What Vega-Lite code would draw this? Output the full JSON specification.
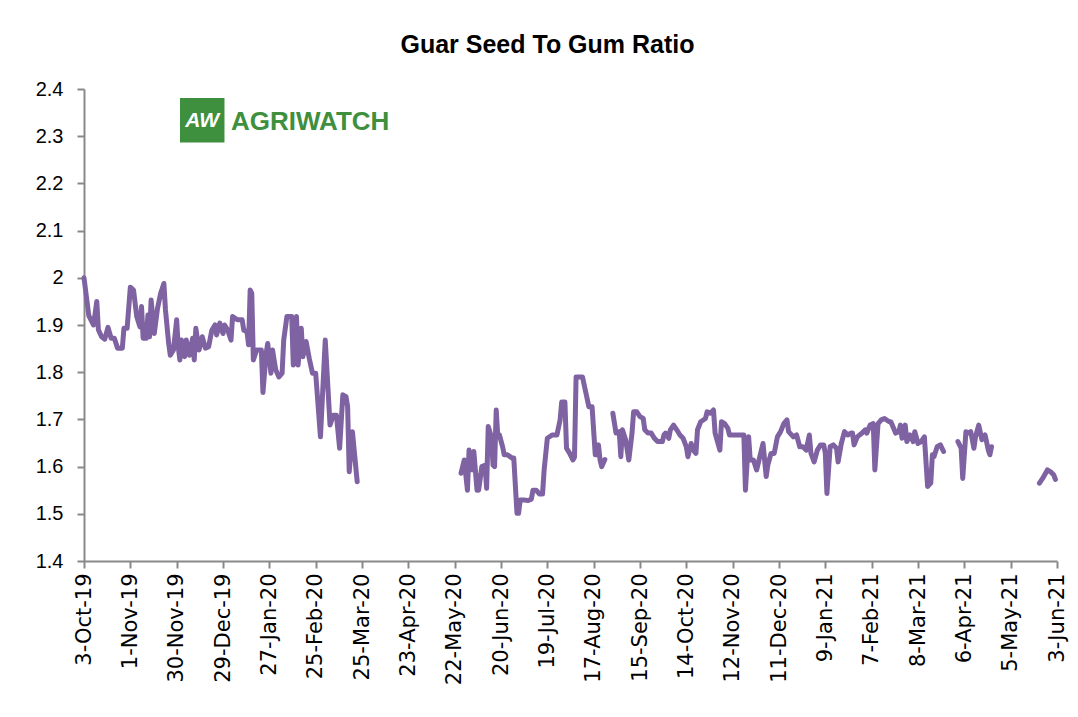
{
  "$schema": "https://vega.github.io/schema/vega-lite/v6.json",
  "width": 973,
  "height": 472,
  "autosize": {"type": "none"},
  "padding": {"left": 84, "top": 89, "right": 21, "bottom": 156},
  "background": "white",
  "config": {"view": {"stroke": null}},
  "title": {"text": "Guar Seed To Gum Ratio", "font": "Liberation Sans", "fontSize": 25, "fontWeight": "bold", "color": "black", "anchor": "middle", "frame": "group", "dx": -23, "offset": 21},
  "layer": [
    {
      "data": {"values": [
        {"d":"2019-10-03","v":2.0,"s":1},{"d":"2019-10-06","v":1.92,"s":1},{"d":"2019-10-09","v":1.9,"s":1},{"d":"2019-10-11","v":1.95,"s":1},{"d":"2019-10-12","v":1.89,"s":1},{"d":"2019-10-14","v":1.875,"s":1},{"d":"2019-10-16","v":1.87,"s":1},{"d":"2019-10-18","v":1.895,"s":1},{"d":"2019-10-20","v":1.872,"s":1},{"d":"2019-10-22","v":1.872,"s":1},{"d":"2019-10-24","v":1.851,"s":1},{"d":"2019-10-27","v":1.851,"s":1},{"d":"2019-10-28","v":1.893,"s":1},{"d":"2019-10-30","v":1.893,"s":1},
        {"d":"2019-11-01","v":1.98,"s":1},{"d":"2019-11-03","v":1.974,"s":1},{"d":"2019-11-05","v":1.918,"s":1},{"d":"2019-11-07","v":1.896,"s":1},{"d":"2019-11-08","v":1.939,"s":1},{"d":"2019-11-09","v":1.872,"s":1},{"d":"2019-11-11","v":1.872,"s":1},{"d":"2019-11-12","v":1.921,"s":1},{"d":"2019-11-13","v":1.875,"s":1},{"d":"2019-11-14","v":1.953,"s":1},{"d":"2019-11-16","v":1.882,"s":1},{"d":"2019-11-18","v":1.935,"s":1},{"d":"2019-11-20","v":1.967,"s":1},{"d":"2019-11-22","v":1.988,"s":1},{"d":"2019-11-23","v":1.932,"s":1},{"d":"2019-11-25","v":1.861,"s":1},{"d":"2019-11-26","v":1.836,"s":1},{"d":"2019-11-28","v":1.847,"s":1},{"d":"2019-11-30","v":1.911,"s":1},
        {"d":"2019-12-01","v":1.854,"s":1},{"d":"2019-12-02","v":1.826,"s":1},{"d":"2019-12-03","v":1.868,"s":1},{"d":"2019-12-05","v":1.833,"s":1},{"d":"2019-12-06","v":1.868,"s":1},{"d":"2019-12-08","v":1.836,"s":1},{"d":"2019-12-10","v":1.872,"s":1},{"d":"2019-12-11","v":1.826,"s":1},{"d":"2019-12-12","v":1.893,"s":1},{"d":"2019-12-14","v":1.847,"s":1},{"d":"2019-12-16","v":1.875,"s":1},{"d":"2019-12-18","v":1.851,"s":1},{"d":"2019-12-20","v":1.854,"s":1},{"d":"2019-12-22","v":1.889,"s":1},{"d":"2019-12-24","v":1.9,"s":1},{"d":"2019-12-25","v":1.879,"s":1},{"d":"2019-12-27","v":1.904,"s":1},{"d":"2019-12-29","v":1.882,"s":1},{"d":"2019-12-30","v":1.9,"s":1},
        {"d":"2020-01-01","v":1.889,"s":1},{"d":"2020-01-03","v":1.868,"s":1},{"d":"2020-01-04","v":1.918,"s":1},{"d":"2020-01-07","v":1.911,"s":1},{"d":"2020-01-10","v":1.911,"s":1},{"d":"2020-01-11","v":1.889,"s":1},{"d":"2020-01-13","v":1.886,"s":1},{"d":"2020-01-14","v":1.858,"s":1},{"d":"2020-01-15","v":1.974,"s":1},{"d":"2020-01-16","v":1.967,"s":1},{"d":"2020-01-17","v":1.826,"s":1},{"d":"2020-01-19","v":1.847,"s":1},{"d":"2020-01-22","v":1.847,"s":1},{"d":"2020-01-23","v":1.757,"s":1},{"d":"2020-01-25","v":1.84,"s":1},{"d":"2020-01-26","v":1.861,"s":1},{"d":"2020-01-28","v":1.798,"s":1},{"d":"2020-01-29","v":1.847,"s":1},{"d":"2020-01-31","v":1.805,"s":1},
        {"d":"2020-02-02","v":1.79,"s":1},{"d":"2020-02-04","v":1.798,"s":1},{"d":"2020-02-05","v":1.868,"s":1},{"d":"2020-02-07","v":1.918,"s":1},{"d":"2020-02-10","v":1.918,"s":1},{"d":"2020-02-11","v":1.815,"s":1},{"d":"2020-02-13","v":1.918,"s":1},{"d":"2020-02-14","v":1.815,"s":1},{"d":"2020-02-16","v":1.893,"s":1},{"d":"2020-02-17","v":1.833,"s":1},{"d":"2020-02-19","v":1.865,"s":1},{"d":"2020-02-21","v":1.829,"s":1},{"d":"2020-02-23","v":1.798,"s":1},{"d":"2020-02-25","v":1.798,"s":1},{"d":"2020-02-28","v":1.663,"s":1},
        {"d":"2020-03-02","v":1.868,"s":1},{"d":"2020-03-05","v":1.688,"s":1},{"d":"2020-03-07","v":1.709,"s":1},{"d":"2020-03-09","v":1.709,"s":1},{"d":"2020-03-11","v":1.639,"s":1},{"d":"2020-03-13","v":1.752,"s":1},{"d":"2020-03-15","v":1.748,"s":1},{"d":"2020-03-16","v":1.727,"s":1},{"d":"2020-03-17","v":1.589,"s":1},{"d":"2020-03-19","v":1.674,"s":1},{"d":"2020-03-22","v":1.568,"s":1},
        {"d":"2020-05-26","v":1.586,"s":2},{"d":"2020-05-28","v":1.614,"s":2},{"d":"2020-05-30","v":1.55,"s":2},{"d":"2020-05-31","v":1.635,"s":2},{"d":"2020-06-02","v":1.593,"s":2},{"d":"2020-06-03","v":1.632,"s":2},{"d":"2020-06-05","v":1.55,"s":2},{"d":"2020-06-06","v":1.55,"s":2},{"d":"2020-06-08","v":1.6,"s":2},{"d":"2020-06-10","v":1.603,"s":2},{"d":"2020-06-11","v":1.554,"s":2},{"d":"2020-06-12","v":1.685,"s":2},{"d":"2020-06-14","v":1.663,"s":2},{"d":"2020-06-15","v":1.603,"s":2},{"d":"2020-06-16","v":1.6,"s":2},{"d":"2020-06-17","v":1.72,"s":2},{"d":"2020-06-18","v":1.663,"s":2},{"d":"2020-06-19","v":1.667,"s":2},{"d":"2020-06-21","v":1.642,"s":2},{"d":"2020-06-22","v":1.625,"s":2},{"d":"2020-06-24","v":1.625,"s":2},{"d":"2020-06-27","v":1.618,"s":2},{"d":"2020-06-28","v":1.618,"s":2},{"d":"2020-06-30","v":1.501,"s":2},
        {"d":"2020-07-01","v":1.501,"s":2},{"d":"2020-07-02","v":1.529,"s":2},{"d":"2020-07-05","v":1.529,"s":2},{"d":"2020-07-07","v":1.528,"s":2},{"d":"2020-07-09","v":1.531,"s":2},{"d":"2020-07-10","v":1.55,"s":2},{"d":"2020-07-12","v":1.55,"s":2},{"d":"2020-07-14","v":1.542,"s":2},{"d":"2020-07-16","v":1.542,"s":2},{"d":"2020-07-17","v":1.593,"s":2},{"d":"2020-07-19","v":1.66,"s":2},{"d":"2020-07-22","v":1.667,"s":2},{"d":"2020-07-25","v":1.667,"s":2},{"d":"2020-07-27","v":1.699,"s":2},{"d":"2020-07-28","v":1.737,"s":2},{"d":"2020-07-30","v":1.737,"s":2},{"d":"2020-07-31","v":1.639,"s":2},
        {"d":"2020-08-02","v":1.628,"s":2},{"d":"2020-08-04","v":1.614,"s":2},{"d":"2020-08-05","v":1.62,"s":2},{"d":"2020-08-06","v":1.79,"s":2},{"d":"2020-08-10","v":1.79,"s":2},{"d":"2020-08-14","v":1.727,"s":2},{"d":"2020-08-16","v":1.727,"s":2},{"d":"2020-08-18","v":1.625,"s":2},{"d":"2020-08-19","v":1.625,"s":2},{"d":"2020-08-20","v":1.646,"s":2},{"d":"2020-08-21","v":1.614,"s":2},{"d":"2020-08-22","v":1.6,"s":2},{"d":"2020-08-24","v":1.615,"s":2},
        {"d":"2020-08-29","v":1.713,"s":3},{"d":"2020-08-31","v":1.671,"s":3},{"d":"2020-09-02","v":1.674,"s":3},{"d":"2020-09-03","v":1.621,"s":3},{"d":"2020-09-04","v":1.678,"s":3},{"d":"2020-09-06","v":1.657,"s":3},{"d":"2020-09-08","v":1.614,"s":3},{"d":"2020-09-10","v":1.671,"s":3},{"d":"2020-09-11","v":1.716,"s":3},{"d":"2020-09-13","v":1.716,"s":3},{"d":"2020-09-15","v":1.706,"s":3},{"d":"2020-09-17","v":1.702,"s":3},{"d":"2020-09-18","v":1.678,"s":3},{"d":"2020-09-20","v":1.671,"s":3},{"d":"2020-09-22","v":1.671,"s":3},{"d":"2020-09-24","v":1.66,"s":3},{"d":"2020-09-26","v":1.653,"s":3},{"d":"2020-09-29","v":1.653,"s":3},{"d":"2020-09-30","v":1.667,"s":3},
        {"d":"2020-10-01","v":1.671,"s":3},{"d":"2020-10-03","v":1.66,"s":3},{"d":"2020-10-04","v":1.678,"s":3},{"d":"2020-10-06","v":1.688,"s":3},{"d":"2020-10-08","v":1.678,"s":3},{"d":"2020-10-10","v":1.667,"s":3},{"d":"2020-10-12","v":1.66,"s":3},{"d":"2020-10-14","v":1.642,"s":3},{"d":"2020-10-15","v":1.621,"s":3},{"d":"2020-10-17","v":1.649,"s":3},{"d":"2020-10-19","v":1.632,"s":3},{"d":"2020-10-20","v":1.628,"s":3},{"d":"2020-10-21","v":1.678,"s":3},{"d":"2020-10-23","v":1.695,"s":3},{"d":"2020-10-26","v":1.702,"s":3},{"d":"2020-10-27","v":1.716,"s":3},{"d":"2020-10-29","v":1.713,"s":3},{"d":"2020-10-31","v":1.72,"s":3},
        {"d":"2020-11-01","v":1.671,"s":3},{"d":"2020-11-04","v":1.635,"s":3},{"d":"2020-11-05","v":1.695,"s":3},{"d":"2020-11-07","v":1.691,"s":3},{"d":"2020-11-09","v":1.681,"s":3},{"d":"2020-11-10","v":1.667,"s":3},{"d":"2020-11-13","v":1.667,"s":3},{"d":"2020-11-16","v":1.667,"s":3},{"d":"2020-11-19","v":1.667,"s":3},{"d":"2020-11-20","v":1.55,"s":3},{"d":"2020-11-21","v":1.607,"s":3},{"d":"2020-11-22","v":1.663,"s":3},{"d":"2020-11-23","v":1.614,"s":3},{"d":"2020-11-25","v":1.614,"s":3},{"d":"2020-11-27","v":1.593,"s":3},{"d":"2020-11-29","v":1.621,"s":3},
        {"d":"2020-12-01","v":1.649,"s":3},{"d":"2020-12-03","v":1.579,"s":3},{"d":"2020-12-04","v":1.603,"s":3},{"d":"2020-12-06","v":1.628,"s":3},{"d":"2020-12-08","v":1.628,"s":3},{"d":"2020-12-10","v":1.663,"s":3},{"d":"2020-12-12","v":1.674,"s":3},{"d":"2020-12-14","v":1.691,"s":3},{"d":"2020-12-16","v":1.699,"s":3},{"d":"2020-12-17","v":1.674,"s":3},{"d":"2020-12-20","v":1.663,"s":3},{"d":"2020-12-22","v":1.667,"s":3},{"d":"2020-12-24","v":1.642,"s":3},{"d":"2020-12-26","v":1.642,"s":3},{"d":"2020-12-28","v":1.635,"s":3},{"d":"2020-12-30","v":1.667,"s":3},{"d":"2020-12-31","v":1.628,"s":3},
        {"d":"2021-01-02","v":1.61,"s":3},{"d":"2021-01-04","v":1.635,"s":3},{"d":"2021-01-06","v":1.646,"s":3},{"d":"2021-01-08","v":1.646,"s":3},{"d":"2021-01-09","v":1.628,"s":3},{"d":"2021-01-10","v":1.543,"s":3},{"d":"2021-01-12","v":1.642,"s":3},{"d":"2021-01-14","v":1.646,"s":3},{"d":"2021-01-16","v":1.639,"s":3},{"d":"2021-01-17","v":1.61,"s":3},{"d":"2021-01-19","v":1.649,"s":3},{"d":"2021-01-21","v":1.674,"s":3},{"d":"2021-01-23","v":1.667,"s":3},{"d":"2021-01-25","v":1.671,"s":3},{"d":"2021-01-26","v":1.671,"s":3},{"d":"2021-01-27","v":1.646,"s":3},{"d":"2021-01-29","v":1.663,"s":3},
        {"d":"2021-02-01","v":1.671,"s":3},{"d":"2021-02-03","v":1.678,"s":3},{"d":"2021-02-04","v":1.671,"s":3},{"d":"2021-02-06","v":1.688,"s":3},{"d":"2021-02-08","v":1.691,"s":3},{"d":"2021-02-09","v":1.593,"s":3},{"d":"2021-02-11","v":1.691,"s":3},{"d":"2021-02-13","v":1.699,"s":3},{"d":"2021-02-15","v":1.702,"s":3},{"d":"2021-02-18","v":1.695,"s":3},{"d":"2021-02-19","v":1.695,"s":3},{"d":"2021-02-22","v":1.671,"s":3},{"d":"2021-02-24","v":1.674,"s":3},{"d":"2021-02-25","v":1.688,"s":3},{"d":"2021-02-26","v":1.66,"s":3},{"d":"2021-02-28","v":1.688,"s":3},
        {"d":"2021-03-01","v":1.653,"s":3},{"d":"2021-03-03","v":1.667,"s":3},{"d":"2021-03-05","v":1.653,"s":3},{"d":"2021-03-06","v":1.674,"s":3},{"d":"2021-03-08","v":1.649,"s":3},{"d":"2021-03-10","v":1.653,"s":3},{"d":"2021-03-12","v":1.663,"s":3},{"d":"2021-03-14","v":1.558,"s":3},{"d":"2021-03-16","v":1.565,"s":3},{"d":"2021-03-17","v":1.625,"s":3},{"d":"2021-03-18","v":1.621,"s":3},{"d":"2021-03-20","v":1.642,"s":3},{"d":"2021-03-22","v":1.646,"s":3},{"d":"2021-03-24","v":1.632,"s":3},
        {"d":"2021-04-02","v":1.653,"s":4},{"d":"2021-04-04","v":1.639,"s":4},{"d":"2021-04-05","v":1.575,"s":4},{"d":"2021-04-07","v":1.674,"s":4},{"d":"2021-04-09","v":1.671,"s":4},{"d":"2021-04-10","v":1.674,"s":4},{"d":"2021-04-12","v":1.639,"s":4},{"d":"2021-04-13","v":1.663,"s":4},{"d":"2021-04-15","v":1.688,"s":4},{"d":"2021-04-17","v":1.657,"s":4},{"d":"2021-04-19","v":1.667,"s":4},{"d":"2021-04-21","v":1.635,"s":4},{"d":"2021-04-22","v":1.625,"s":4},{"d":"2021-04-23","v":1.642,"s":4},
        {"d":"2021-05-23","v":1.565,"s":5},{"d":"2021-05-25","v":1.575,"s":5},{"d":"2021-05-28","v":1.593,"s":5},{"d":"2021-05-30","v":1.589,"s":5},{"d":"2021-06-01","v":1.582,"s":5},{"d":"2021-06-02","v":1.573,"s":5}
      ]},
      "mark": {"type": "line", "color": "#7E62A1", "strokeWidth": 5, "strokeJoin": "round", "strokeCap": "round"},
      "encoding": {
        "x": {
          "field": "d", "type": "temporal",
          "scale": {"type": "utc", "nice": false, "domain": [{"year": 2019, "month": 10, "date": 3, "utc": true}, {"year": 2021, "month": 6, "date": 3, "utc": true}]},
          "axis": {
            "title": null, "grid": false,
            "labelExpr": "utcFormat(datum.value, '%-d-%b-%y')",
            "values": [
              {"year":2019,"month":10,"date":3,"utc":true},{"year":2019,"month":11,"date":1,"utc":true},{"year":2019,"month":11,"date":30,"utc":true},{"year":2019,"month":12,"date":29,"utc":true},
              {"year":2020,"month":1,"date":27,"utc":true},{"year":2020,"month":2,"date":25,"utc":true},{"year":2020,"month":3,"date":25,"utc":true},{"year":2020,"month":4,"date":23,"utc":true},
              {"year":2020,"month":5,"date":22,"utc":true},{"year":2020,"month":6,"date":20,"utc":true},{"year":2020,"month":7,"date":19,"utc":true},{"year":2020,"month":8,"date":17,"utc":true},
              {"year":2020,"month":9,"date":15,"utc":true},{"year":2020,"month":10,"date":14,"utc":true},{"year":2020,"month":11,"date":12,"utc":true},{"year":2020,"month":12,"date":11,"utc":true},
              {"year":2021,"month":1,"date":9,"utc":true},{"year":2021,"month":2,"date":7,"utc":true},{"year":2021,"month":3,"date":8,"utc":true},{"year":2021,"month":4,"date":6,"utc":true},
              {"year":2021,"month":5,"date":5,"utc":true},{"year":2021,"month":6,"date":3,"utc":true}
            ],
            "labelAngle": -90, "labelFont": "DejaVu Sans", "labelFontSize": 21, "labelColor": "black",
            "labelPadding": 5, "labelOverlap": false, "labelFlush": false,
            "domainColor": "#898989", "domainWidth": 2, "tickColor": "#898989", "tickWidth": 2, "tickSize": 7
          }
        },
        "y": {
          "field": "v", "type": "quantitative",
          "scale": {"domain": [1.4, 2.4], "nice": false, "zero": false},
          "axis": {
            "title": null, "grid": false, "values": [1.4,1.5,1.6,1.7,1.8,1.9,2.0,2.1,2.2,2.3,2.4], "format": "~g",
            "labelFont": "Liberation Sans", "labelFontSize": 20, "labelColor": "black", "labelPadding": 14,
            "domainColor": "#898989", "domainWidth": 2, "tickColor": "#898989", "tickWidth": 2, "tickSize": 7
          }
        },
        "detail": {"field": "s", "type": "nominal"}
      }
    },
    {
      "data": {"values": [{}]},
      "mark": {"type": "point", "shape": "square", "filled": true, "color": "#3E8F3E", "opacity": 1, "size": 1980},
      "encoding": {
        "x": {"datum": {"year": 2019, "month": 12, "date": 16, "utc": true}, "type": "temporal"},
        "y": {"datum": 2.334, "type": "quantitative"}
      }
    },
    {
      "data": {"values": [{}]},
      "mark": {"type": "text", "text": "AW", "color": "white", "font": "Liberation Sans", "fontSize": 21, "fontWeight": "bold", "fontStyle": "italic", "align": "center", "baseline": "middle"},
      "encoding": {
        "x": {"datum": {"year": 2019, "month": 12, "date": 16, "utc": true}, "type": "temporal"},
        "y": {"datum": 2.332, "type": "quantitative"}
      }
    },
    {
      "data": {"values": [{}]},
      "mark": {"type": "text", "text": "AGRIWATCH", "color": "#3E8F3E", "font": "Liberation Sans", "fontSize": 26, "fontWeight": "bold", "align": "left", "baseline": "middle"},
      "encoding": {
        "x": {"datum": {"year": 2020, "month": 1, "date": 3, "utc": true}, "type": "temporal"},
        "y": {"datum": 2.33, "type": "quantitative"}
      }
    }
  ]
}
